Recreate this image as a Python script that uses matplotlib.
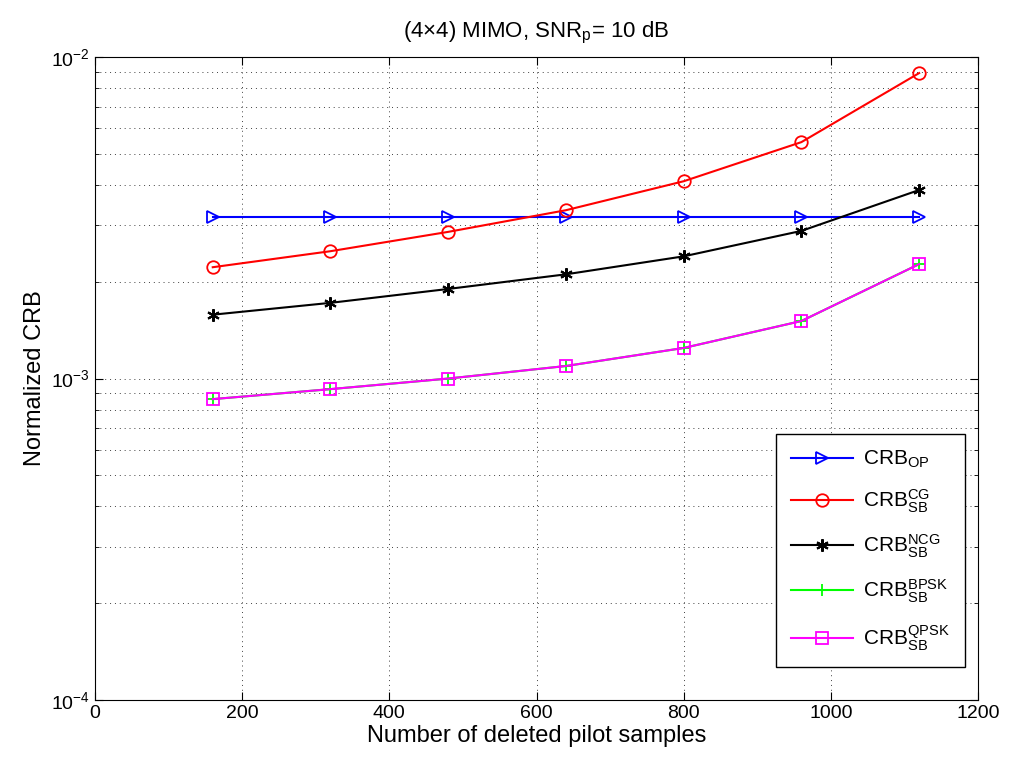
import numpy as np
import matplotlib.pyplot as plt

plt.rcParams['font.family'] = ['Liberation Sans', 'DejaVu Sans']
plt.rcParams['mathtext.fontset'] = 'custom'
plt.rcParams['mathtext.rm'] = 'Liberation Sans'
plt.rcParams['mathtext.it'] = 'Liberation Sans:italic'
plt.rcParams['mathtext.bf'] = 'Liberation Sans:bold'

# deleted pilot samples
x = [160, 320, 480, 640, 800, 960, 1120]

crb_op = [3.18e-3, 3.18e-3, 3.18e-3, 3.18e-3, 3.18e-3, 3.18e-3, 3.18e-3]
crb_cg = [2.22e-3, 2.49e-3, 2.86e-3, 3.34e-3, 4.11e-3, 5.44e-3, 8.92e-3]
crb_ncg = [1.58e-3, 1.72e-3, 1.90e-3, 2.11e-3, 2.40e-3, 2.88e-3, 3.86e-3]
crb_bpsk = [8.63e-4, 9.27e-4, 1.0e-3, 1.094e-3, 1.245e-3, 1.51e-3, 2.27e-3]
crb_qpsk = [8.63e-4, 9.27e-4, 1.0e-3, 1.094e-3, 1.245e-3, 1.51e-3, 2.27e-3]

fig = plt.figure(figsize=(10.14, 7.72), dpi=100)
ax = fig.add_axes([0.0937, 0.0933, 0.8708, 0.8327])

ax.semilogy(x, crb_op, color='blue', marker='>', mfc='none', ms=9, mew=1.3, lw=1.5,
            label=r'$\mathrm{CRB_{OP}}$')
ax.semilogy(x, crb_cg, color='red', marker='o', mfc='none', ms=9, mew=1.3, lw=1.5,
            label=r'$\mathrm{CRB_{SB}^{CG}}$')
ax.semilogy(x, crb_ncg, color='black', marker=(6, 2, 0), ms=9, mew=1.5, lw=1.5,
            label=r'$\mathrm{CRB_{SB}^{NCG}}$')
ax.semilogy(x, crb_bpsk, color='#00ff00', marker='+', ms=9, mew=1.3, lw=1.5,
            label=r'$\mathrm{CRB_{SB}^{BPSK}}$')
ax.semilogy(x, crb_qpsk, color='magenta', marker='s', mfc='none', ms=9, mew=1.3, lw=1.5,
            label=r'$\mathrm{CRB_{SB}^{QPSK}}$')

ax.set_xlim(0, 1200)
ax.set_ylim(1e-4, 1e-2)
ax.set_xticks(np.arange(0, 1201, 200))

ax.grid(True, which='major', ls=(0, (1, 4)), color='0.25', lw=0.7)
ax.grid(True, which='minor', axis='y', ls=(0, (1, 4)), color='0.25', lw=0.7)
ax.tick_params(which='both', direction='in', top=True, right=True, labelsize=14)
ax.tick_params(which='major', length=6)
ax.tick_params(which='minor', length=3)

ax.set_xlabel('Number of deleted pilot samples', fontsize=17, labelpad=2)
ax.set_ylabel('Normalized CRB', fontsize=17, labelpad=4)
ax.set_title(r'(4$\times$4) MIMO, SNR$_\mathrm{p}$= 10 dB', fontsize=16, pad=14)

leg = ax.legend(loc='lower right', bbox_to_anchor=(0.985, 0.051), borderaxespad=0,
                fontsize=15, fancybox=False, framealpha=1, edgecolor='black',
                labelspacing=0.85, handlelength=3.0, handletextpad=0.5,
                borderpad=0.7)
leg.get_frame().set_linewidth(1.0)

fig.savefig('out.png', dpi=100)
